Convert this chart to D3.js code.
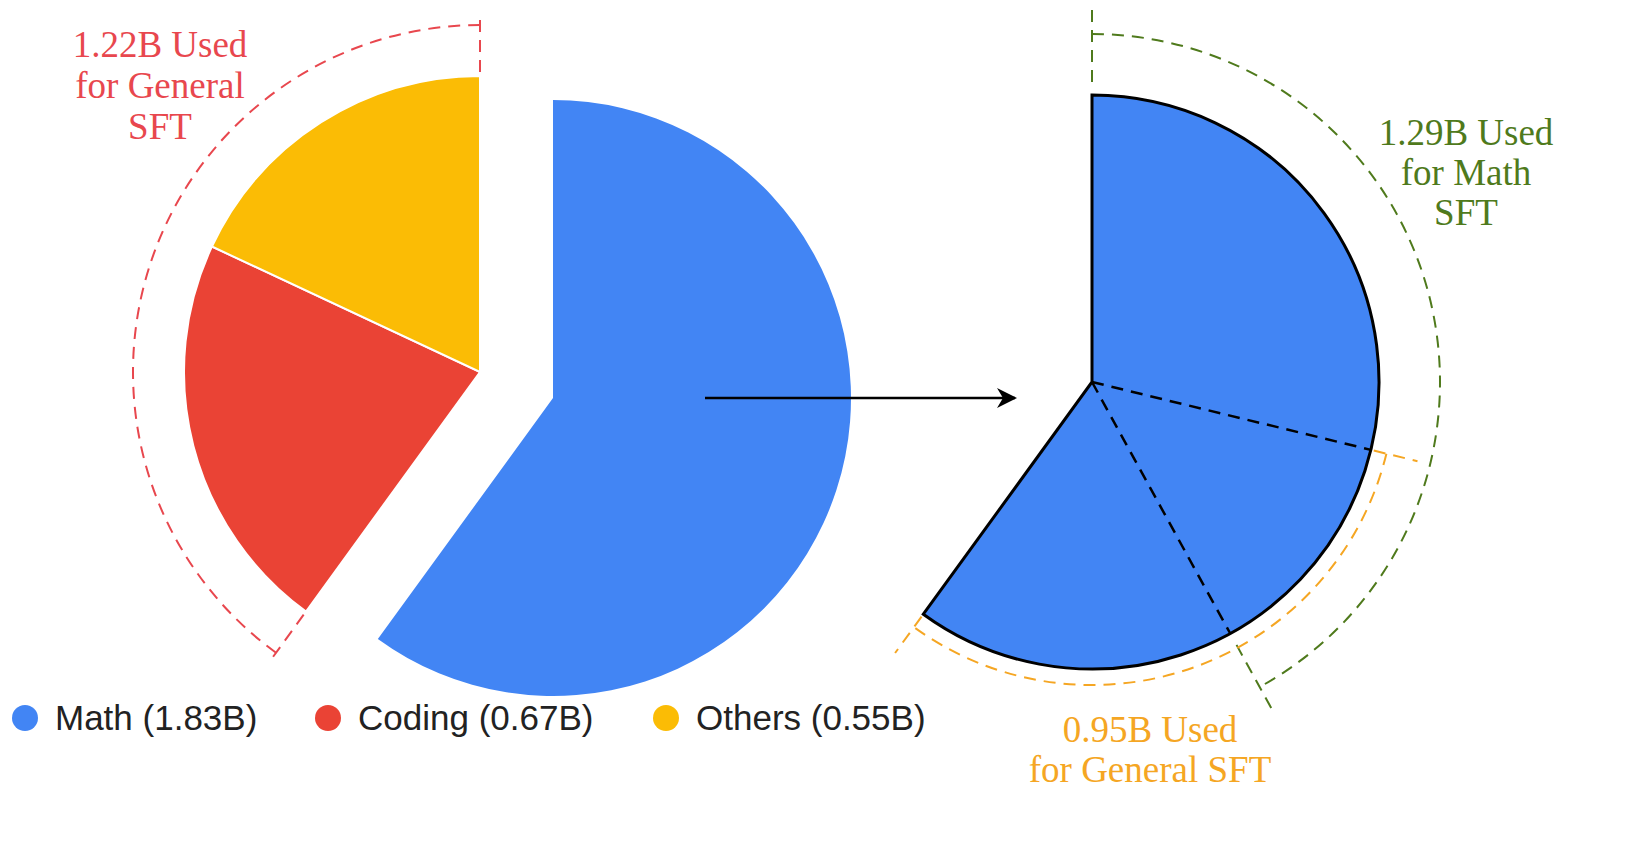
<!DOCTYPE html>
<html>
<head>
<meta charset="utf-8">
<script src="https://cdn.jsdelivr.net/npm/d3@7"></script>
<style>
body { margin: 0; background: #fff; }
</style>
</head>
<body>
<svg id="chart" width="1643" height="846"></svg>
<script>
// source data (billions)
var categories = ["Math", "Coding", "Others"];
var values = [1.83, 0.67, 0.55];
var colors = ["#4285F4", "#EA4335", "#FBBC05"];

// split of the math slice (angles as fraction of the math slice)
var mathSplits = [0.48, 0.70];
var usageLabels = [
  ["1.22B Used", "for General", "SFT"],
  ["1.29B Used", "for Math", "SFT"],
  ["0.95B Used", "for General SFT"]
];

var svg = d3.select("#chart");
var serif = "'Liberation Serif', 'Times New Roman', serif";
var labelSize = "37px";

var pie = d3.pie().sort(null).value(function (d) { return d; });
var arcs = pie(values);
var arc = d3.arc().innerRadius(0);

// open arc (angles from 12 o'clock, clockwise)
function openArc(r, t0, t1) {
  var p = d3.path();
  p.moveTo(r * Math.sin(t0), -r * Math.cos(t0));
  p.arc(0, 0, r, t0 - Math.PI / 2, t1 - Math.PI / 2, false);
  return p.toString();
}

// left pie: math exploded
var cMath = [553, 398], cRest = [480, 372];
arcs.forEach(function (a, i) {
  var c = i === 0 ? cMath : cRest;
  var r = i === 0 ? 298 : 296;
  svg.append("path")
    .attr("transform", "translate(" + c + ")")
    .attr("d", arc.outerRadius(r)(a))
    .style("fill", colors[i])
    .style("stroke", i === 0 ? "none" : "#fff")
    .style("stroke-width", 2);
});

function bracket(g, t0, t1, r, rIn, rOut, col) {
  g.append("path").attr("d", openArc(r, t0, t1))
    .style("fill", "none").style("stroke", col).style("stroke-width", 2).style("stroke-dasharray", "12,8");
  [t0, t1].forEach(function (t) {
    g.append("line")
      .attr("x1", rIn * Math.sin(t)).attr("y1", -rIn * Math.cos(t))
      .attr("x2", rOut * Math.sin(t)).attr("y2", -rOut * Math.cos(t))
      .style("stroke", col).style("stroke-width", 2).style("stroke-dasharray", "12,8");
  });
}

// red dashed bracket around coding + others
var redC = "#E8474E";
var gRed = svg.append("g").attr("transform", "translate(" + cRest + ")");
bracket(gRed, arcs[1].startAngle, 2 * Math.PI, 347, 300, 355, redC);
svg.append("text").attr("y", 57).attr("text-anchor", "middle")
  .style("font-family", serif).style("font-size", labelSize).style("fill", redC)
  .selectAll("tspan").data(usageLabels[0]).join("tspan")
  .attr("x", 160).attr("dy", function (d, i) { return i ? 41 : 0; }).text(function (d) { return d; });

// arrow
svg.append("defs").append("marker").attr("id", "ah").attr("viewBox", "0 0 10 10")
  .attr("refX", 9).attr("refY", 5).attr("markerWidth", 8).attr("markerHeight", 8)
  .attr("orient", "auto").append("path").attr("d", "M0,0 L10,5 L0,10 L3,5 Z").style("fill", "#000");
svg.append("line").attr("x1", 705).attr("y1", 398).attr("x2", 1015).attr("y2", 398)
  .style("stroke", "#000").style("stroke-width", 2.5).attr("marker-end", "url(#ah)");

// right pie: math slice alone
var cR = [1092, 382], rR = 287;
var gR = svg.append("g").attr("transform", "translate(" + cR + ")");
gR.append("path").attr("d", arc.outerRadius(rR)(arcs[0]))
  .style("fill", colors[0]).style("stroke", "#000").style("stroke-width", 3);
var a0 = arcs[0].startAngle, a1 = arcs[0].endAngle;
var splitAngles = mathSplits.map(function (f) { return a0 + f * (a1 - a0); });
splitAngles.forEach(function (t) {
  gR.append("line").attr("x1", 0).attr("y1", 0)
    .attr("x2", rR * Math.sin(t)).attr("y2", -rR * Math.cos(t))
    .style("stroke", "#000").style("stroke-width", 2.5).style("stroke-dasharray", "12,8");
});

var green = "#4F7A1C", orange = "#F5A623";
bracket(gR, a0, splitAngles[1], 348, 300, 372, green);
bracket(gR, splitAngles[0], a1, 303, 290, 335, orange);

svg.append("text").attr("y", 145).style("font-family", serif).style("font-size", labelSize)
  .style("fill", green).attr("text-anchor", "middle")
  .selectAll("tspan").data(usageLabels[1]).join("tspan")
  .attr("x", 1466).attr("dy", function (d, i) { return i ? 40 : 0; }).text(function (d) { return d; });
svg.append("text").attr("y", 742).style("font-family", serif).style("font-size", labelSize)
  .style("fill", orange).attr("text-anchor", "middle")
  .selectAll("tspan").data(usageLabels[2]).join("tspan")
  .attr("x", 1150).attr("dy", function (d, i) { return i ? 40 : 0; }).text(function (d) { return d; });

// legend
var legX = [25, 328, 666];
categories.forEach(function (c, i) {
  svg.append("circle").attr("cx", legX[i]).attr("cy", 718).attr("r", 13).style("fill", colors[i]);
  svg.append("text").attr("x", legX[i] + 30).attr("y", 718).attr("dy", "0.35em")
    .style("font-family", "'Liberation Sans', Arial, sans-serif").style("font-size", "35px")
    .style("fill", "#222").text(c + " (" + values[i].toFixed(2) + "B)");
});
</script>
</body>
</html>
